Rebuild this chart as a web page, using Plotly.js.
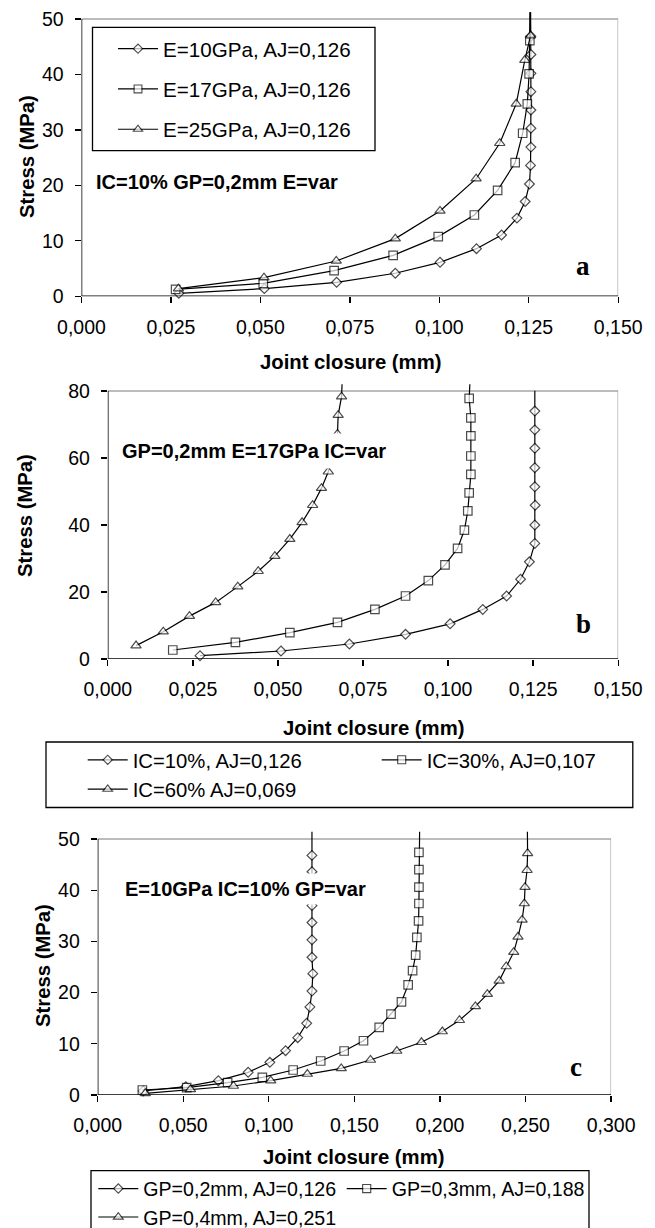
<!DOCTYPE html>
<html><head><meta charset="utf-8">
<script src="https://cdn.plot.ly/plotly-3.0.1.min.js"></script>
<style>html,body{margin:0;padding:0;background:#fff}#chart{width:655px;height:1228px}</style>
</head><body><div id="chart"></div>
<script>
// ---------- Panel a : E varies ----------
const a_names = ['E=10GPa, AJ=0,126', 'E=17GPa, AJ=0,126', 'E=25GPa, AJ=0,126'];
const a_x_E10 = [0.0272,0.0511,0.0713,0.0877,0.1002,0.1104,0.1174,0.1217,0.1240,0.1252,0.1255,0.1256,0.1256,0.1256,0.1256,0.1256,0.1256,0.1256,0.1255];
const a_y_E10 = [0.54,1.38,2.52,4.15,6.13,8.59,11.06,14.1,17.1,20.25,23.6,26.9,30.3,33.6,36.9,40.2,43.6,46.9,55];
const a_x_E17 = [0.0263,0.0508,0.0706,0.0871,0.0997,0.1098,0.1163,0.1212,0.1233,0.1246,0.1251,0.1253,0.1254];
const a_y_E17 = [1.26,2.34,4.63,7.39,10.76,14.66,19.1,24.1,29.4,34.7,40.1,46.1,55];
const a_x_E25 = [0.0271,0.0510,0.0712,0.0877,0.1002,0.1103,0.1169,0.1215,0.1239,0.1255,0.1254];
const a_y_E25 = [1.38,3.37,6.37,10.4,15.4,21.2,27.6,34.7,42.6,47.0,55];
const a_xticks = [0,0.025,0.05,0.075,0.1,0.125,0.15];
const a_xlabels = ['0,000','0,025','0,050','0,075','0,100','0,125','0,150'];
const a_yticks = [0,10,20,30,40,50];

// ---------- Panel b : IC varies ----------
const b_names = ['IC=10%, AJ=0,126', 'IC=30%, AJ=0,107', 'IC=60% AJ=0,069'];
const b_x_IC10 = [0.0271,0.0509,0.0710,0.0875,0.1006,0.1102,0.1172,0.1213,0.1239,0.1255,0.1255,0.1256,0.1255,0.1255,0.1255,0.1255,0.1255,0.1255];
const b_y_IC10 = [0.99,2.39,4.47,7.36,10.5,14.8,18.8,23.8,29.0,34.5,40.0,45.9,51.4,57.1,62.9,68.4,74.0,80.1];
const b_x_IC30 = [0.0191,0.0375,0.0535,0.0675,0.0785,0.0875,0.0942,0.0991,0.1028,0.1048,0.1058,0.1062,0.1067,0.1067,0.1067,0.1067,0.1062,0.1066];
const b_y_IC30 = [2.69,4.97,7.86,10.95,14.8,18.8,23.4,28.1,33.0,38.5,44.2,49.6,55.1,60.6,66.6,72.0,77.8,86];
const b_x_IC60 = [0.0083,0.0163,0.0240,0.0317,0.0382,0.0442,0.0491,0.0535,0.0571,0.0602,0.0628,0.0648,0.0663,0.0675,0.0677,0.0687,0.0690];
const b_y_IC60 = [4.0,8.16,12.8,16.9,21.6,26.2,30.7,35.8,40.8,45.9,51.0,55.9,61.6,67.2,72.8,78.3,86];
const b_xticks = a_xticks;
const b_xlabels = a_xlabels;
const b_yticks = [0,20,40,60,80];

// ---------- Panel c : GP varies ----------
const c_names = ['GP=0,2mm, AJ=0,126', 'GP=0,3mm, AJ=0,188', 'GP=0,4mm, AJ=0,251'];
const c_x_GP2 = [0.0266,0.0515,0.0705,0.0879,0.1006,0.1098,0.1169,0.1221,0.1240,0.1252,0.1257,0.1252,0.1252,0.1252,0.1252,0.1252,0.1252,0.1252,0.1252];
const c_y_GP2 = [0.78,1.63,2.8,4.43,6.38,8.66,11.2,14.0,17.2,20.3,23.7,26.9,30.3,33.7,37.0,40.3,43.6,46.8,55];
const c_x_GP3 = [0.0261,0.0520,0.0759,0.0962,0.1142,0.1303,0.1440,0.1553,0.1645,0.1714,0.1775,0.1814,0.1840,0.1858,0.1865,0.1875,0.1877,0.1877,0.1877,0.1877,0.1882];
const c_y_GP3 = [0.98,1.43,2.41,3.45,4.88,6.64,8.59,10.6,13.2,15.8,18.2,21.5,24.3,27.3,30.8,34.0,37.4,40.6,44.0,47.4,55];
const c_x_GP4 = [0.0278,0.0542,0.0793,0.1011,0.1225,0.1423,0.1594,0.1748,0.1892,0.2014,0.2114,0.2207,0.2277,0.2346,0.2387,0.2431,0.2456,0.2480,0.2493,0.2497,0.2509,0.2512,0.2510];
const c_y_GP4 = [0.33,1.1,1.76,2.8,4.1,5.2,6.84,8.59,10.3,12.4,14.6,17.3,19.7,22.3,25.1,27.9,30.9,34.2,37.4,40.6,43.9,47.2,55];
const c_xticks = [0,0.05,0.1,0.15,0.2,0.25,0.3];
const c_xlabels = ['0,000','0,050','0,100','0,150','0,200','0,250','0,300'];
const c_yticks = [0,10,20,30,40,50];

const ytitle = 'Stress (MPa)';
const xtitle = 'Joint closure (mm)';
const notes = ['IC=10% GP=0,2mm E=var', 'GP=0,2mm E=17GPa IC=var', 'E=10GPa IC=10% GP=var'];
const letters = ['a', 'b', 'c'];

// ---------- layout helpers ----------
const W = 655, H = 1228;
const FONT = 'Liberation Sans, Arial, Helvetica, sans-serif';
const SERIF = 'Liberation Serif, Times New Roman, serif';
const px = p => p / W;
const py = p => 1 - p / H;
function yDom(pBottom, pTopTick, tickMax, rangeMax) {
  const ppu = (pBottom - pTopTick) / tickMax;
  return [py(pBottom), py(pBottom - ppu * rangeMax)];
}
const SYM = ['diamond', 'square', 'triangle-up'];
const MS = [7.5, 8.5, 9];
function series(x, y, i, name, xa, ya, leg, axisMax, group) {
  const t = {
    type: 'scatter', mode: 'lines+markers', x: x, y: y, name: name,
    xaxis: xa, yaxis: ya, legend: leg, cliponaxis: false,
    line: {color: '#000', width: 1.2},
    marker: {symbol: SYM[i], color: '#fff',
      size: y.map(v => v > axisMax ? 0 : MS[i]),
      line: {color: '#000', width: y.map(v => v > axisMax ? 0 : 1.2)}}
  };
  if (group) t.legendgroup = group;
  return t;
}
const traces = [
  series(a_x_E10, a_y_E10, 0, a_names[0], 'x', 'y', 'legend', 50, 'g1'),
  series(a_x_E17, a_y_E17, 1, a_names[1], 'x', 'y', 'legend', 50, 'g2'),
  series(a_x_E25, a_y_E25, 2, a_names[2], 'x', 'y', 'legend', 50, 'g3'),
  series(b_x_IC10, b_y_IC10, 0, b_names[0], 'x2', 'y2', 'legend2', 80),
  series(b_x_IC30, b_y_IC30, 1, b_names[1], 'x2', 'y2', 'legend2', 80),
  series(b_x_IC60, b_y_IC60, 2, b_names[2], 'x2', 'y2', 'legend2', 80),
  series(c_x_GP2, c_y_GP2, 0, c_names[0], 'x3', 'y3', 'legend3', 50),
  series(c_x_GP3, c_y_GP3, 1, c_names[1], 'x3', 'y3', 'legend3', 50),
  series(c_x_GP4, c_y_GP4, 2, c_names[2], 'x3', 'y3', 'legend3', 50)
];

const tickFont = {family: FONT, size: 19.5, color: '#000'};
function xAxis(dom, anchor, vals, labels) {
  return {domain: dom, anchor: anchor, range: [vals[0], vals[vals.length - 1]],
    tickmode: 'array', tickvals: vals, ticktext: labels, ticks: 'outside', ticklen: 6,
    tickwidth: 1.3, tickcolor: '#000', tickfont: tickFont, showgrid: false, zeroline: false,
    showline: false, ticklabelstandoff: 7, fixedrange: true};
}
function yAxis(dom, anchor, vals, rangeMax) {
  return {domain: dom, anchor: anchor, range: [0, rangeMax],
    tickmode: 'array', tickvals: vals, ticktext: vals.map(String), ticks: 'outside', ticklen: 6,
    tickwidth: 1.3, tickcolor: '#000', tickfont: tickFont, showgrid: false, zeroline: false,
    showline: false, ticklabelstandoff: 7, fixedrange: true};
}
function frame(xr, yr, xmax, ymax) {
  return [
    {type: 'line', xref: xr, yref: yr, x0: 0, x1: xmax, y0: ymax, y1: ymax, line: {color: '#a6a6a6', width: 1.3}, layer: 'below'},
    {type: 'line', xref: xr, yref: yr, x0: xmax, x1: xmax, y0: 0, y1: ymax, line: {color: '#a6a6a6', width: 1.3}, layer: 'below'},
    {type: 'line', xref: xr, yref: yr, x0: 0, x1: 0, y0: 0, y1: ymax, line: {color: '#000', width: 1.5}},
    {type: 'line', xref: xr, yref: yr, x0: 0, x1: xmax, y0: 0, y1: 0, line: {color: '#000', width: 1.5}}
  ];
}
function legendBox(l, t, r, b) {
  return {type: 'rect', xref: 'paper', yref: 'paper', x0: px(l), x1: px(r), y0: py(b), y1: py(t),
    fillcolor: '#fff', line: {color: '#000', width: 1.3}, layer: 'above'};
}
const TS = 20.3;
function txt(text, xp, yp, opts) {
  return Object.assign({text: text, xref: 'paper', yref: 'paper', x: px(xp), y: py(yp),
    showarrow: false, xanchor: 'center', yanchor: 'middle',
    font: {family: FONT, size: TS, color: '#000'}}, opts || {});
}
const boldFont = {family: FONT, size: TS, color: '#000', weight: 'bold'};
const noteFont = {family: FONT, size: 20, color: '#000', weight: 'bold'};
const letterFont = {family: SERIF, size: 27, color: '#000', weight: 'bold'};

const annotations = [
  txt(ytitle, 27, 157, {textangle: -90, font: boldFont}),
  txt(xtitle, 350, 362, {font: boldFont}),
  txt(notes[0], 90, 182, {xanchor: 'left', font: noteFont, bgcolor: '#fff', borderpad: 5}),
  txt(letters[0], 583, 266, {font: letterFont}),
  txt(ytitle, 25, 516, {textangle: -90, font: boldFont}),
  txt(xtitle, 373, 728, {font: boldFont}),
  txt(notes[1], 115, 451, {xanchor: 'left', font: noteFont, bgcolor: '#fff', borderpad: 6}),
  txt(letters[1], 583, 624, {font: letterFont}),
  txt(ytitle, 43, 966, {textangle: -90, font: boldFont}),
  txt(xtitle, 354, 1157, {font: boldFont}),
  txt(notes[2], 120, 889, {xanchor: 'left', font: noteFont, bgcolor: '#fff', borderpad: 4}),
  txt(letters[2], 576, 1067, {font: letterFont})
];

const clear = 'rgba(0,0,0,0)';
const layout = {
  width: W, height: H, margin: {l: 0, r: 0, t: 0, b: 0, autoexpand: false},
  paper_bgcolor: '#fff', plot_bgcolor: '#fff', showlegend: true,
  xaxis: xAxis([px(81.5), px(618.2)], 'y', a_xticks, a_xlabels),
  yaxis: yAxis(yDom(296.3, 19, 50, 51.2), 'x', a_yticks, 51.2),
  xaxis2: xAxis([px(107.8), px(618.2)], 'y2', b_xticks, b_xlabels),
  yaxis2: yAxis(yDom(659, 391, 80, 82), 'x2', b_yticks, 82),
  xaxis3: xAxis([px(97.7), px(611.1)], 'y3', c_xticks, c_xlabels),
  yaxis3: yAxis(yDom(1095, 839, 50, 51.4), 'x3', c_yticks, 51.4),
  shapes: [].concat(
    frame('x', 'y', 0.15, 50), frame('x2', 'y2', 0.15, 80), frame('x3', 'y3', 0.3, 50),
    [legendBox(92.5, 27.3, 375, 150.7), legendBox(46, 742, 632.8, 807.5), legendBox(91, 1170.7, 589, 1240)]),
  annotations: annotations,
  legend: {x: px(93), y: py(28.8), xanchor: 'left', yanchor: 'top', bgcolor: clear,
    borderwidth: 0, font: {family: FONT, size: 20.6, color: '#000'}, traceorder: 'grouped',
    tracegroupgap: 10.5, itemwidth: 40, indentation: 20},
  legend2: {x: px(46), y: py(740.1), xanchor: 'left', yanchor: 'top', orientation: 'h',
    bgcolor: clear, borderwidth: 0, font: {family: FONT, size: 20.3, color: '#000'}, traceorder: 'normal',
    entrywidth: 202.3, entrywidthmode: 'pixels', itemwidth: 40, indentation: 36.7},
  legend3: {x: px(91), y: py(1169.3), xanchor: 'left', yanchor: 'top', orientation: 'h',
    bgcolor: clear, borderwidth: 0, font: {family: FONT, size: 19.6, color: '#000'}, traceorder: 'normal',
    entrywidth: 191.1, entrywidthmode: 'pixels', itemwidth: 40, indentation: 2.3}
};
Plotly.newPlot('chart', traces, layout, {displayModeBar: false, staticPlot: true});
</script></body></html>
